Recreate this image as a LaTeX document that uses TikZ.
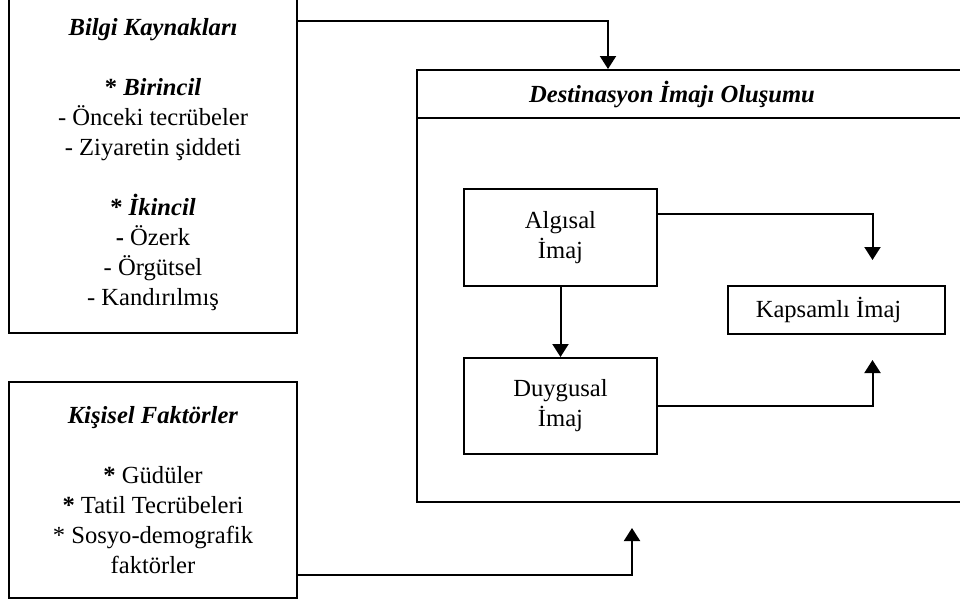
\documentclass[tikz,border=0pt]{standalone}
\usepackage{fontspec}
\setmainfont{Liberation Serif}
\usetikzlibrary{arrows.meta, positioning}

\begin{document}
\begin{tikzpicture}[x=0.5pt, y=-0.5pt, line width=1pt,
  kutu/.style={draw, align=center, inner sep=0pt, font=\fontsize{12.3}{15}\selectfont},
  baslik/.style={font=\fontsize{12.3}{15}\selectfont\bfseries\itshape},
  ok/.style={-{Triangle[length=6.5pt,width=8pt]}}]

\useasboundingbox (0,0) rectangle (960,602);

% sol kutular
\node[kutu, minimum width=144pt, minimum height=168pt] (bilgi) at (153,165)
  {\textbf{\textit{Bilgi Kaynakları}}\\[15pt]
   \textbf{* \textit{Birincil}}\\ - Önceki tecrübeler\\ - Ziyaretin şiddeti\\[15pt]
   \textbf{* \textit{İkincil}}\\ \textbf{-} Özerk\\ - Örgütsel\\ - Kandırılmış};

\node[kutu, minimum width=144pt, minimum height=108pt] (kisisel) at (153,490)
  {\textbf{\textit{Kişisel Faktörler}}\\[15pt]
   \textbf{*} Güdüler\\ \textbf{*} Tatil Tecrübeleri\\ * Sosyo-demografik\\ faktörler};

% buyuk kutu
\node[kutu, minimum width=279pt, minimum height=216pt] (olusum) at (696,286) {};
\node[baslik] (oltitle) at (672,94) {Destinasyon İmajı Oluşumu};
\draw (olusum.north west |- 0,118) -- (olusum.north east |- 0,118);

% ic kutular
\node[kutu, minimum width=96.5pt, minimum height=48.5pt] (algisal) at (560.5,237.5) {Algısal\\ İmaj};
\node[kutu, minimum width=96.5pt, minimum height=48pt] (duygusal) at (560.5,406) {Duygusal\\ İmaj};
\node[kutu, minimum width=108.5pt, minimum height=24pt] (kapsamli) at (836.5,310) {Kapsamlı İmaj\hspace*{8pt}};

\coordinate (kapUst) at ([xshift=18pt, yshift=12.5pt]kapsamli.north);
\coordinate (kapAlt) at ([xshift=18pt, yshift=-12.5pt]kapsamli.south);
\coordinate (olAlt) at ([xshift=108pt, yshift=-12.5pt]olusum.south west);

% baglantilar
\draw[ok] ([yshift=-12.5pt]bilgi.north east) -| ([xshift=96pt]olusum.north west);
\draw[ok] ([yshift=12pt]kisisel.south east) -| (olAlt);
\draw[ok] ([yshift=12pt]algisal.east) -| (kapUst);
\draw[ok] (algisal) -- (duygusal);
\draw[ok] (duygusal.east) -| (kapAlt);

\end{tikzpicture}
\end{document}
